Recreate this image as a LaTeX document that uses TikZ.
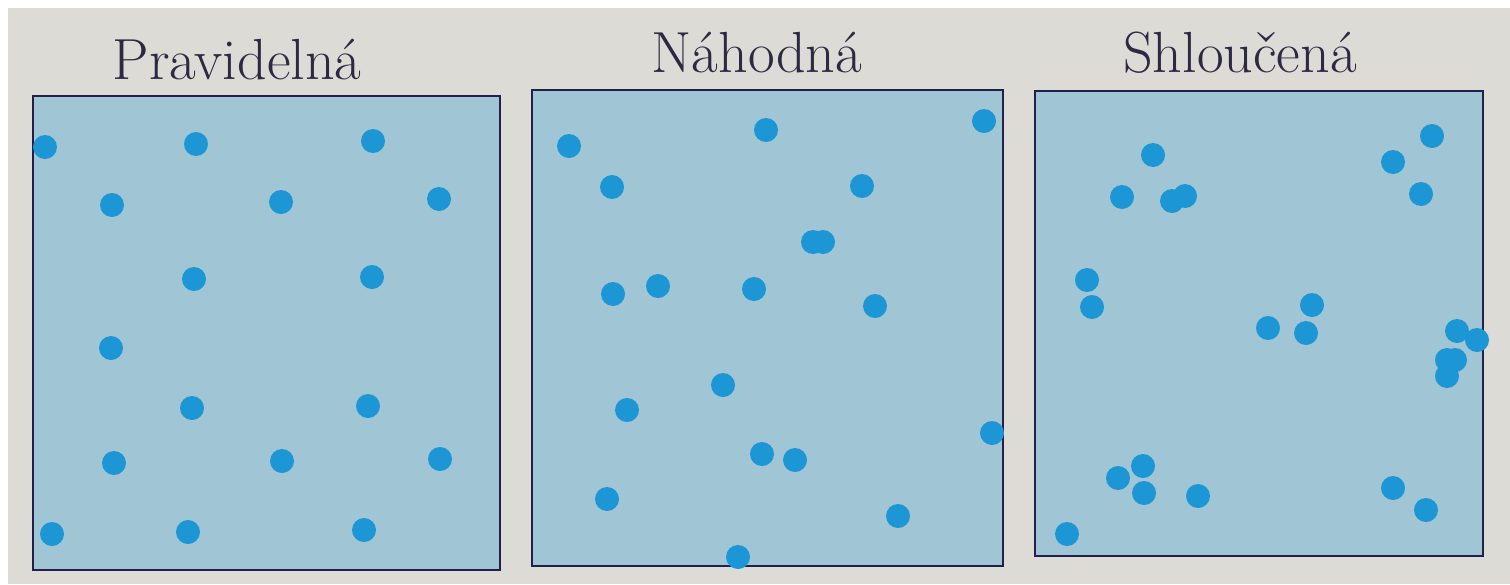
\documentclass[tikz,border=0pt]{standalone}
\usepackage{fontspec}
\usetikzlibrary{positioning}

\definecolor{papir}{RGB}{221,219,214}
\definecolor{plocha}{RGB}{160,197,213}
\definecolor{tecka}{RGB}{28,150,212}
\definecolor{ramecek}{RGB}{32,32,74}
\definecolor{popis}{RGB}{44,42,66}

\begin{document}
\begin{tikzpicture}[
    x=0.5pt, y=-0.5pt,
    pole/.style={fill=plocha, draw=ramecek, line width=1.2pt},
    bod/.style={fill=tecka},
    nadpis/.style={anchor=base, text=popis, font=\fontsize{29}{34}\selectfont}
]

    % 1. Okraje a papír
    \useasboundingbox (0,0) rectangle (1510,584);
    \fill[papir] (8,8) rectangle (1510,584);

    % 2. Tři čtverce
    \draw[pole] (33,96) rectangle (500,570);
    \draw[pole] (532,90) rectangle (1003,566);
    \draw[pole] (1035,91) rectangle (1483,556);

    % 3. Nadpisy
    \node[nadpis] (pravidelna) at (237,79) {Pravidelná};
    \node[nadpis] (nahodna) at (757,72) {Náhodná};
    \node[nadpis] (shlucena) at (1240,72) {Shloučená};

    % 4. Pravidelné rozmístění
    \foreach \x/\y in {45/147, 196/144, 373/141,
                       112/205, 281/202, 439/199,
                       194/279, 372/277,
                       111/348,
                       192/408, 368/406,
                       114/463, 282/461, 440/459,
                       52/534, 188/532, 364/530}
        \fill[bod] (\x,\y) circle[radius=6pt];

    % 5. Náhodné rozmístění
    \foreach \x/\y in {569/146, 766/130, 984/121,
                       612/187, 862/186,
                       813/242, 823/242,
                       613/294, 658/286, 754/289, 875/306,
                       723/385, 627/410, 992/433,
                       762/454, 795/460,
                       607/499, 898/516, 738/557}
        \fill[bod] (\x,\y) circle[radius=6pt];

    % 6. Shlukové rozmístění
    \foreach \x/\y in {1153/155, 1432/136, 1393/162,
                       1122/197, 1172/201, 1185/196, 1421/194,
                       1087/280, 1092/307,
                       1268/328, 1312/305, 1306/333,
                       1457/331, 1477/340, 1447/360, 1455/360, 1447/376,
                       1118/478, 1143/466, 1144/493, 1198/496,
                       1393/488, 1426/510, 1067/534}
        \fill[bod] (\x,\y) circle[radius=6pt];

\end{tikzpicture}
\end{document}
